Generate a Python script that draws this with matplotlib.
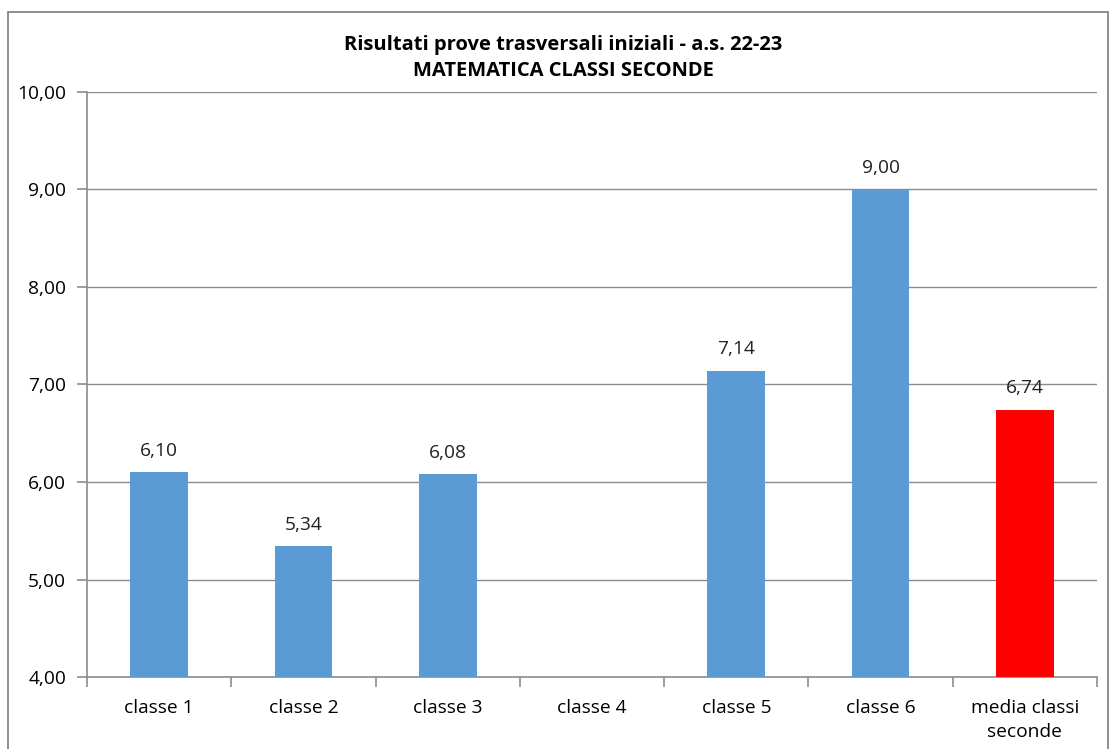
import matplotlib.pyplot as plt
import numpy as np
from matplotlib.patches import Rectangle

# Data
categories = ["classe 1", "classe 2", "classe 3", "classe 4", "classe 5", "classe 6", "media classi\nseconde"]
values = [6.10, 5.34, 6.08, np.nan, 7.14, 9.00, 6.74]
colors = ["#5B9BD5"] * 6 + ["#FF0000"]
yticks = [4, 5, 6, 7, 8, 9, 10]

plt.rcParams['font.family'] = ['Open Sans', 'DejaVu Sans']

fig = plt.figure(figsize=(11.16, 7.49), dpi=100)
ax = fig.add_axes([0.078, 0.0961, 0.905, 0.7811])

# outer chart border
fig.patches.append(Rectangle((8 / 1116, -0.01), 1100 / 1116, 1 - 12 / 749 + 0.01,
                             transform=fig.transFigure, fill=False,
                             edgecolor="#868686", linewidth=1.3))

x = np.arange(len(categories))
heights = [v - 4 if not np.isnan(v) else 0 for v in values]
bars = ax.bar(x, heights, bottom=4, width=0.4, color=colors, zorder=3)

for xi, v in zip(x, values):
    if not np.isnan(v):
        ax.text(xi, v + 0.13, f"{v:.2f}".replace(".", ","), ha="center", va="bottom",
                fontsize=13.8, color="#222222")

ax.set_xlim(-0.5, len(categories) - 0.5)
ax.set_ylim(4, 10)
ax.set_yticks(yticks)
ax.set_yticklabels([f"{t:.2f}".replace(".", ",") for t in yticks], fontsize=13.8)
ax.yaxis.grid(True, color="#8C8C8C", linewidth=1.0, zorder=0)
ax.set_axisbelow(True)

ax.set_xticks(x)
ax.set_xticklabels(categories, fontsize=13.8, linespacing=1.4)
ax.set_xticks(np.arange(len(categories) + 1) - 0.5, minor=True)
ax.tick_params(axis="x", which="major", length=0, pad=16)
ax.tick_params(axis="x", which="minor", length=7, color="#8C8C8C", direction="out", width=1.2)
ax.tick_params(axis="y", length=7, color="#8C8C8C", pad=8, width=1.2)

for s in ["top", "right"]:
    ax.spines[s].set_visible(False)
ax.spines["left"].set_color("#8C8C8C")
ax.spines["bottom"].set_color("#8C8C8C")
ax.spines["left"].set_linewidth(1.2)
ax.spines["bottom"].set_linewidth(1.2)

fig.text(0.505, 0.922, "Risultati prove trasversali iniziali - a.s. 22-23\nMATEMATICA CLASSI SECONDE",
         ha="center", va="center", fontsize=14.5, fontweight="bold", linespacing=1.4)

plt.savefig("out.png", dpi=100)
